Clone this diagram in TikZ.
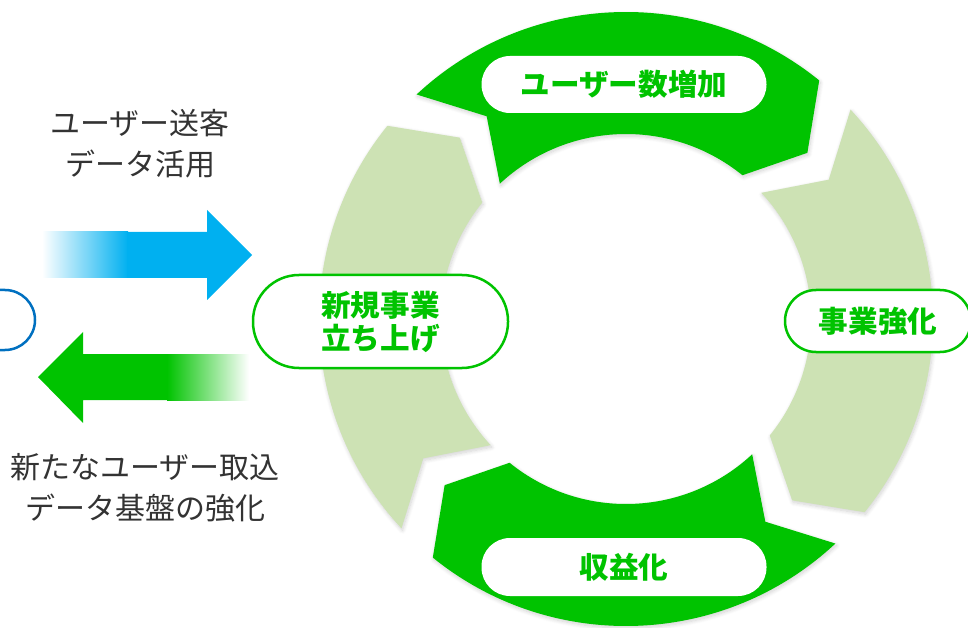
\documentclass[tikz,border=0pt]{standalone}
\usepackage{fontspec}
\setmainfont{Noto Sans CJK JP}
\usetikzlibrary{calc,shadows.blur}
\definecolor{linegreen}{RGB}{0,195,0}
\definecolor{palegreen}{RGB}{205,226,180}
\definecolor{flowblue}{RGB}{0,176,240}
\definecolor{frameblue}{RGB}{0,112,192}
\definecolor{captiongray}{RGB}{51,51,51}

% one arrow segment of the cycle: #1 centre angle, #2 colour
\newcommand{\cycleseg}[2]{%
  \fill[#2, blur shadow={shadow xshift=1pt, shadow yshift=-2pt, shadow opacity=18, shadow blur radius=4pt, shadow blur steps=8}]
    ({#1+41}:307pt) arc[start angle={#1+41}, end angle={#1-41}, radius=307pt]
    -- ({#1-49.5}:246pt) -- ({#1-41}:185pt)
    arc[start angle={#1-41}, end angle={#1+41}, radius=185pt]
    -- ({#1+32.5}:246pt) -- cycle;}

\begin{document}
\begin{tikzpicture}[x=1pt,y=1pt,
  ringlabel/.style={fill=white, text=linegreen, font=\bfseries\fontsize{29.6}{33}\selectfont,
    align=center, inner sep=0pt, minimum height=57pt, rounded corners=28.5pt},
  framelabel/.style={ringlabel, draw=linegreen, line width=2.5pt},
  caption/.style={text=captiongray, font=\fontsize{30}{41}\selectfont, align=center}]
\useasboundingbox (0,0) rectangle (968,627);

% cycle
\begin{scope}[shift={(626,308)}]
  \cycleseg{92}{linegreen}
  \cycleseg{2}{palegreen}
  \cycleseg{-88}{linegreen}
  \cycleseg{182}{palegreen}
\end{scope}

\node[ringlabel, minimum width=285pt] (users) at (624,542.5) {ユーザー数増加};
\node[ringlabel, minimum width=285pt, minimum height=58pt] (profit) at (624,60) {収益化};
\node[framelabel, minimum width=255pt, minimum height=93pt, rounded corners=46pt] (newbiz) at (380.5,305.5) {新規事業\\立ち上げ};
\node[framelabel, minimum width=186pt, minimum height=62pt, rounded corners=31pt] (strength) at (878,306) {事業強化};

% partner (cut off at the left)
\node[draw=frameblue, line width=2.5pt, minimum width=190pt, minimum height=60pt, rounded corners=30pt] (partner) at (-60,307) {};

% flows
\fill[left color=white, right color=flowblue] (42,349) rectangle (128,395);
\fill[flowblue] (127,349) -- (207,349) -- (207,327) -- (252,372) -- (207,417) -- (207,395) -- (127,395) -- cycle;
\fill[linegreen] (168,227) -- (83,227) -- (83,204) -- (38,250) -- (83,295) -- (83,273) -- (168,273) -- cycle;
\fill[left color=linegreen, right color=white] (167,227) rectangle (249,273);

\node[caption] (sendtext) at (140,483) {ユーザー送客\\データ活用};
\node[caption] (gettext) at (145,139.5) {新たなユーザー取込\\データ基盤の強化};
\end{tikzpicture}
\end{document}
